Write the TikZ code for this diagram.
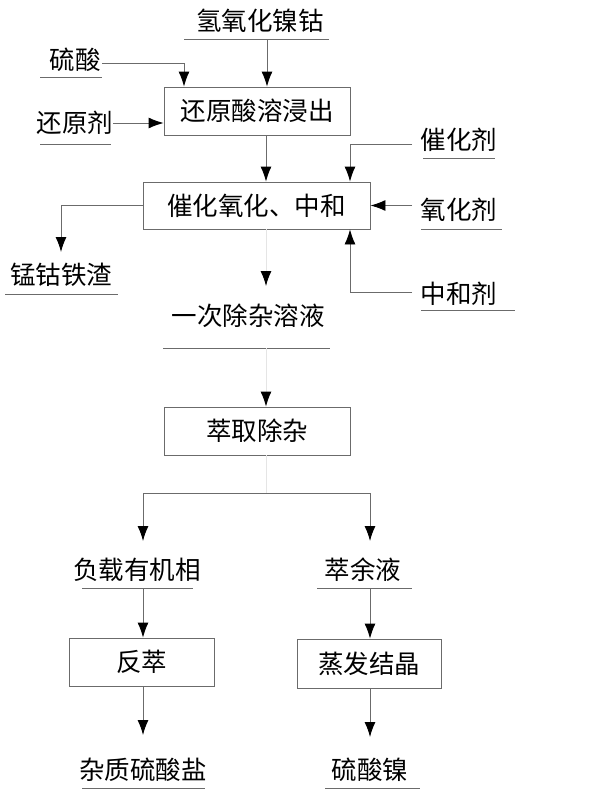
\documentclass[tikz,border=0pt]{standalone}
\usepackage{fontspec}
\newfontfamily\cjk{Noto Sans CJK SC}
\usetikzlibrary{arrows.meta}
\definecolor{ln}{gray}{0.42}
\definecolor{faint}{gray}{0.9}
\begin{document}
\begin{tikzpicture}[x=1pt,y=-1pt,
  txt/.style={font=\cjk\fontsize{25.5}{25.5}\selectfont, inner sep=0pt, anchor=center},
  procbox/.style={draw=ln, line width=0.9pt, font=\cjk\fontsize{25.5}{25.5}\selectfont, inner sep=0pt},
  arr/.style={draw=ln, line width=0.9pt, -{Latex[length=15pt,width=11pt,color=black]}},
  farr/.style={draw=faint, line width=0.9pt, -{Latex[length=15pt,width=11pt,color=black]}},
  plain/.style={draw=ln, line width=0.9pt},
  fline/.style={draw=faint, line width=0.9pt},
  uline/.style={draw=ln, line width=0.9pt}]
\useasboundingbox (0,0) rectangle (600,795);
\fill[white] (0,0) rectangle (600,795);

% labels
\node[txt] (lh) at (260,21) {氢氧化镍钴};
\node[txt] (ls) at (75,60) {硫酸};
\node[txt] (lr) at (75,123) {还原剂};
\node[txt] (lc) at (459,140) {催化剂};
\node[txt] (lo) at (459,210) {氧化剂};
\node[txt] (ln) at (459,294) {中和剂};
\node[txt] (lm) at (61,275) {锰钴铁渣};
\node[txt] (l1) at (248,316) {一次除杂溶液};
\node[txt] (lf) at (137,570) {负载有机相};
\node[txt] (ly) at (363,570) {萃余液};
\node[txt] (lz) at (143,770) {杂质硫酸盐};
\node[txt] (lni) at (370,770) {硫酸镍};

% underlines
\draw[uline] (184,39) -- (329,39);
\draw[uline] (40,77) -- (102,77);
\draw[uline] (40,144) -- (111,144);
\draw[uline] (423,158) -- (495,158);
\draw[uline] (421,229) -- (502,229);
\draw[uline] (421,310) -- (515,310);
\draw[uline] (5,294) -- (118,294);
\draw[uline] (163,348) -- (330,348);
\draw[uline] (82,588) -- (193,588);
\draw[uline] (317,588) -- (412,588);
\draw[uline] (82,788) -- (205,788);
\draw[uline] (325,788) -- (420,788);

% process boxes
\node[procbox, minimum width=186pt, minimum height=48pt] (b1) at (257,111) {还原酸溶浸出};
\node[procbox, minimum width=227pt, minimum height=47pt] (b2) at (256.5,205.5) {催化氧化、中和};
\node[procbox, minimum width=186pt, minimum height=48pt] (b3) at (257,431) {萃取除杂};
\node[procbox, minimum width=145pt, minimum height=48pt] (b4) at (141.5,662) {反萃};
\node[procbox, minimum width=144pt, minimum height=49pt] (b5) at (369,663.5) {蒸发结晶};

% coordinates
\coordinate (hu) at (267,39);
\coordinate (sa) at (102,63);
\coordinate (sb) at (184,63);
\coordinate (ca) at (412,144);
\coordinate (cb) at (350,144);
\coordinate (oa) at (412,205.5);
\coordinate (na) at (412,292);
\coordinate (nb) at (350,292);
\coordinate (ma) at (61,205.5);
\coordinate (mt) at (61,252);
\coordinate (t1) at (266,286);
\coordinate (u1) at (266,348);
\coordinate (sp) at (266,493);
\coordinate (spl) at (143,493);
\coordinate (spr) at (370,493);
\coordinate (tl) at (143,541);
\coordinate (tr) at (370,541);
\coordinate (fu) at (143,588);
\coordinate (yu) at (370,588);
\coordinate (zt) at (143,735);
\coordinate (nt) at (370,737);

% connectors
\draw[arr] (hu) -- (hu |- b1.north);
\draw[arr] (sa) -- (sb) -- (sb |- b1.north);
\draw[arr] (lr.east) -- (lr.east -| b1.west);
\draw[arr] ([xshift=9pt]b1.south) -- ([xshift=9pt]b1.south |- b2.north);
\draw[arr] (ca) -- (cb) -- (cb |- b2.north);
\draw[arr] (oa) -- (b2.east);
\draw[arr] (na) -- (nb) -- (nb |- b2.south);
\draw[arr] (b2.west) -- (ma) -- (mt);
\draw[farr] (t1 |- b2.south) -- (t1);
\draw[farr] (u1) -- (u1 |- b3.north);
\draw[fline] (sp |- b3.south) -- (sp);
\draw[plain] (spl) -- (spr);
\draw[arr] (spl) -- (tl);
\draw[arr] (spr) -- (tr);
\draw[arr] (fu) -- (fu |- b4.north);
\draw[arr] (yu) -- (yu |- b5.north);
\draw[arr] (fu |- b4.south) -- (zt);
\draw[arr] (yu |- b5.south) -- (nt);
\end{tikzpicture}
\end{document}
